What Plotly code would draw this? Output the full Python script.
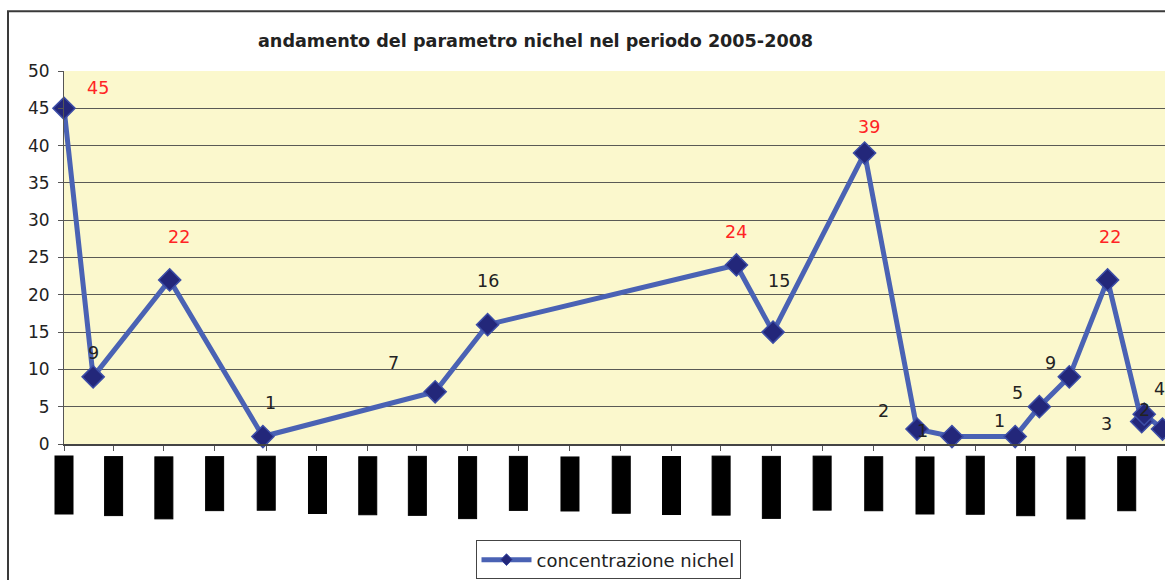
import plotly.graph_objects as go

# ---- data ----
sample_dates = ["2005-01-01", "2005-02-05", "2005-05-08", "2005-08-28", "2006-03-23",
                "2006-05-25", "2007-03-20", "2007-05-03", "2007-08-21", "2007-10-23",
                "2007-12-04", "2008-02-18", "2008-03-18", "2008-04-23", "2008-06-08",
                "2008-07-19", "2008-07-22", "2008-08-13"]
nichel_values = [45, 9, 22, 1, 7, 16, 24, 15, 39, 2, 1, 1, 5, 9, 22, 3, 4, 2]

tick_dates = ["2005-01-01", "2005-03-01", "2005-05-01", "2005-07-01", "2005-09-01", "2005-11-01",
              "2006-01-01", "2006-03-01", "2006-05-01", "2006-07-01", "2006-09-01", "2006-11-01",
              "2007-01-01", "2007-03-01", "2007-05-01", "2007-07-01", "2007-09-01", "2007-11-01",
              "2008-01-01", "2008-03-01", "2008-05-01", "2008-07-01"]
tick_labels = ["gen-2005", "mar-2005", "mag-2005", "lug-2005", "set-2005", "nov-2005",
               "gen-2006", "mar-2006", "mag-2006", "lug-2006", "set-2006", "nov-2006",
               "gen-2007", "mar-2007", "mag-2007", "lug-2007", "set-2007", "nov-2007",
               "gen-2008", "mar-2008", "mag-2008", "lug-2008"]

y_ticks = [0, 5, 10, 15, 20, 25, 30, 35, 40, 45, 50]

title_text = "andamento del parametro nichel nel periodo 2005-2008"
series_name = "concentrazione nichel"
limit_value = 20  # labels above this value are shown in red

# label placement offsets (pixels, right / down), as placed manually in the original
label_dx = [34, 0, 9, 8, -42, 0, 0, 6, 4, -34, -29, -16, -22, -19, 2, -35, 15, -18]
label_dy = [-20, -24, -43, -34, -29, -44, -33, -51, -26, -18, -6, -16, -14, -14, -43, 2, -25, -19]

FONT = "DejaVu Sans"
W, H = 1165, 580
L, T = 64, 71
R = 0
B = H - 446
PW, PH = W - L - R, H - T - B
BOTTOM = H - B  # figure y of plot bottom

fig = go.Figure()
fig.add_trace(go.Scatter(
    x=sample_dates, y=nichel_values, mode="lines+markers", name=series_name,
    line=dict(color="#4A62B4", width=5),
    marker=dict(symbol="diamond", size=17, color="#23277A",
                line=dict(color="#3C4DA6", width=1.5)),
    cliponaxis=False, showlegend=False,
))
# legend entry (smaller symbol, as in the original legend)
fig.add_trace(go.Scatter(
    x=[None], y=[None], mode="lines+markers", name=series_name,
    line=dict(color="#4A62B4", width=5),
    marker=dict(symbol="diamond", size=9, color="#23277A",
                line=dict(color="#3C4DA6", width=1)),
    showlegend=True,
))

annotations = []
for d, v, dx, dy in zip(sample_dates, nichel_values, label_dx, label_dy):
    annotations.append(dict(
        x=d, y=v, xref="x", yref="y", text=str(v), showarrow=False,
        xshift=dx, yshift=-dy,
        font=dict(family=FONT, size=17.5, color="#FF2424" if v > limit_value else "#222222"),
    ))

# rotated date labels, rendered as black blocks as in the original
for d, lab in zip(tick_dates, tick_labels):
    annotations.append(dict(
        x=d, y=0, xref="x", yref="paper", text=lab, showarrow=False,
        textangle=-90, xanchor="center", yanchor="top", yshift=-12,
        font=dict(family="Liberation Sans", size=13, color="black"),
        bgcolor="black", bordercolor="black", borderwidth=1, borderpad=1,
    ))

fig.update_layout(
    width=W, height=H,
    margin=dict(l=L, r=R, t=T, b=B),
    paper_bgcolor="white", plot_bgcolor="#FBF8CD",
    font=dict(family=FONT, size=17, color="#222222"),
    title=dict(text="<b>" + title_text + "</b>", xref="container", yref="container",
               x=258 / W, xanchor="left", y=1 - 41 / H, yanchor="middle",
               font=dict(family=FONT, size=17.6, color="#222222")),
    xaxis=dict(type="date", range=["2005-01-01", "2008-08-16"],
               tickvals=tick_dates, showticklabels=False,
               ticks="outside", ticklen=5, tickcolor="#555555",
               showgrid=False, showline=True, linecolor="#444444", linewidth=1.5,
               zeroline=False),
    yaxis=dict(range=[0, 50], tickvals=y_ticks, ticks="outside", ticklen=5,
               tickcolor="#555555", showline=True, linecolor="#555555", linewidth=1,
               gridcolor="#5A5A55", gridwidth=1, zeroline=False, ticklabelstandoff=5,
               tickfont=dict(family=FONT, size=17, color="#222222")),
    showlegend=True,
    legend=dict(orientation="h", x=(608 - L) / PW, xanchor="center",
                y=-(543 - 446) / PH, yanchor="top",
                bgcolor="white", bordercolor="#444444", borderwidth=1,
                itemwidth=50, font=dict(family=FONT, size=18, color="#222222")),
    annotations=annotations,
    shapes=[dict(type="rect", xref="paper", yref="paper",
                 x0=(8 - L) / PW, x1=1.1, y0=(BOTTOM - 11) / PH, y1=-0.6,
                 line=dict(color="#3A3A3A", width=2), fillcolor="rgba(0,0,0,0)",
                 layer="below")],
)

fig.write_html(
    "out.html",
    config={"displayModeBar": False},
    post_script="document.body.style.margin='0px';document.body.style.overflow='hidden';",
)
